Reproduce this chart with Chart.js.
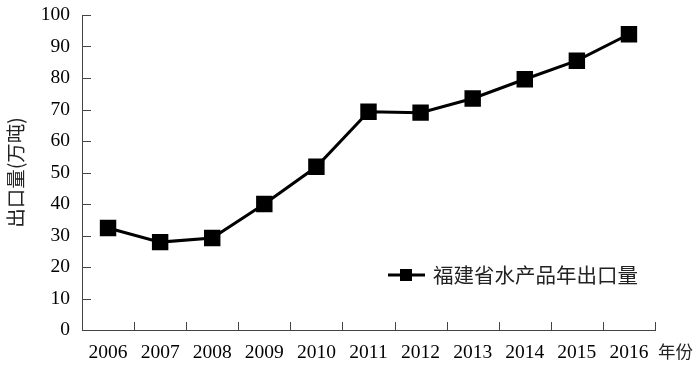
<!DOCTYPE html>
<html lang="zh">
<head>
  <meta charset="UTF-8">
  <title>福建省水产品年出口量</title>
  <script src="https://cdn.jsdelivr.net/npm/chart.js"></script>
  <style>
    html, body { margin: 0; padding: 0; background: #fff; }
    #wrap { width: 700px; height: 369px; }
  </style>
</head>
<body>
  <div id="wrap"><canvas id="chart"></canvas></div>

  <script>
    // 数据
    const years = ['2006', '2007', '2008', '2009', '2010', '2011', '2012', '2013', '2014', '2015', '2016'];
    const exportVolume = [32.4, 27.9, 29.2, 40.0, 51.8, 69.3, 69.0, 73.5, 79.6, 85.5, 93.9];
    const yTicks = [0, 10, 20, 30, 40, 50, 60, 70, 80, 90, 100];

    const serif = '"Liberation Serif", "Times New Roman", serif';
    const cjk = '"Noto Sans CJK SC", sans-serif';
    const axisColor = '#444';

    // 向内的刻度线、图例和"年份"
    const extras = {
      id: 'extras',
      afterDraw(chart) {
        const { ctx, chartArea, scales } = chart;
        const x = scales.x, y = scales.y;
        ctx.save();
        ctx.strokeStyle = axisColor;
        ctx.lineWidth = 1;
        ctx.beginPath();
        yTicks.forEach(v => {
          const py = Math.round(y.getPixelForValue(v)) + 0.5;
          ctx.moveTo(chartArea.left, py);
          ctx.lineTo(chartArea.left + 9, py);
        });
        const half = (x.getPixelForValue(1) - x.getPixelForValue(0)) / 2;
        years.forEach((_, i) => {
          const px = Math.round(x.getPixelForValue(i) + half) + 0.5;
          ctx.moveTo(px, chartArea.bottom);
          ctx.lineTo(px, chartArea.bottom - 8);
        });
        ctx.stroke();

        // 图例
        const ly = 275;
        ctx.strokeStyle = '#000';
        ctx.lineWidth = 3;
        ctx.beginPath();
        ctx.moveTo(388, ly);
        ctx.lineTo(425, ly);
        ctx.stroke();
        ctx.fillStyle = '#000';
        ctx.fillRect(400, ly - 6, 12, 12);
        ctx.fillStyle = '#222';
        ctx.font = '20.5px ' + cjk;
        ctx.textBaseline = 'middle';
        ctx.textAlign = 'left';
        ctx.fillText(chart.data.datasets[0].label, 433, ly);

        // x轴标题
        ctx.font = '17.5px ' + cjk;
        ctx.fillText('年份', 658, 351);
        ctx.restore();
      }
    };

    new Chart(document.getElementById('chart').getContext('2d'), {
      type: 'line',
      data: {
        labels: years,
        datasets: [{
          label: '福建省水产品年出口量',
          data: exportVolume,
          borderColor: '#000',
          backgroundColor: '#000',
          borderWidth: 3,
          pointStyle: 'rect',
          pointRadius: 9.5,
          pointHoverRadius: 9.5,
          tension: 0
        }]
      },
      options: {
        responsive: true,
        maintainAspectRatio: false,
        animation: false,
        layout: { padding: { top: 15, right: 45, left: 0, bottom: 0 } },
        plugins: {
          legend: { display: false },
          tooltip: { enabled: false }
        },
        scales: {
          x: {
            offset: true,
            grid: { display: true, drawOnChartArea: false, drawTicks: false },
            border: { display: true, color: axisColor, width: 1 },
            ticks: {
              color: '#000',
              padding: 11,
              maxRotation: 0,
              autoSkip: false,
              font: { family: serif, size: 19.5 }
            },
            afterFit: scale => {
              scale.height = 39;
              scale.paddingLeft = 0;
              scale.paddingRight = 0;
            }
          },
          y: {
            min: 0,
            max: 100,
            grid: { display: true, drawOnChartArea: false, drawTicks: false },
            border: { display: true, color: axisColor, width: 1 },
            ticks: {
              stepSize: 10,
              color: '#000',
              padding: 12,
              font: { family: serif, size: 19.5 }
            },
            title: {
              display: true,
              text: '出口量(万吨)',
              color: '#222',
              padding: { top: 4, bottom: 0 },
              font: { family: cjk, size: 19.5 }
            },
            afterFit: scale => {
              scale.width = 82;
              scale.paddingTop = 0;
              scale.paddingBottom = 0;
            }
          }
        }
      },
      plugins: [extras]
    });
  </script>
</body>
</html>
